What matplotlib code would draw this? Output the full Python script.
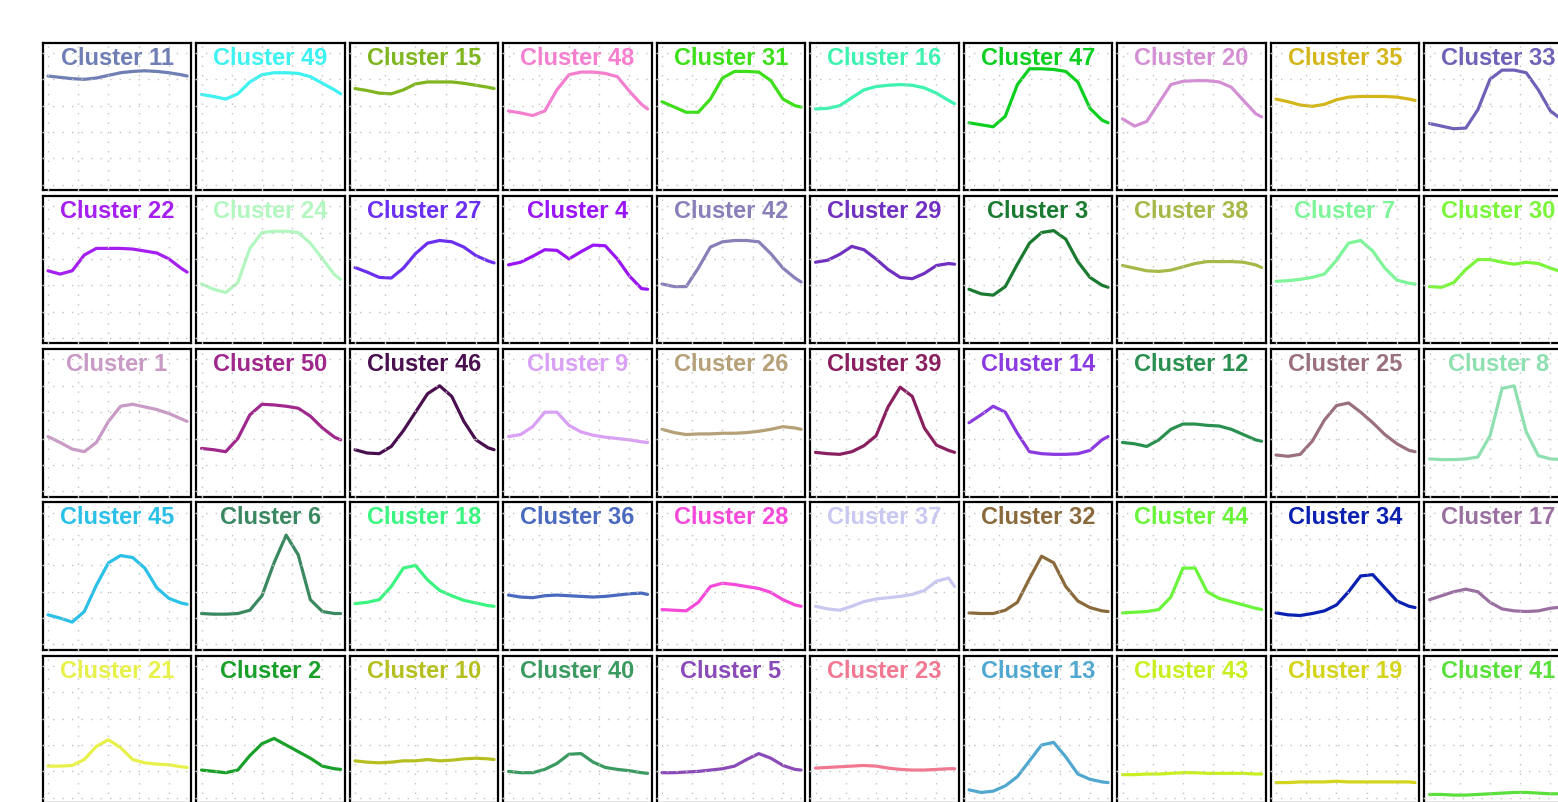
import matplotlib
matplotlib.use("Agg")
import matplotlib.pyplot as plt
import numpy as np

# hour of day at which each cluster profile is sampled
hours = [0, 2, 4, 6, 8, 10, 12, 14, 16, 18, 20, 22, 23]

# panel order, row by row
cluster_ids = [
    11, 49, 15, 48, 31, 16, 47, 20, 35, 33,
    22, 24, 27, 4, 42, 29, 3, 38, 7, 30,
    1, 50, 46, 9, 26, 39, 14, 12, 25, 8,
    45, 6, 18, 36, 28, 37, 32, 44, 34, 17,
    21, 2, 10, 40, 5, 23, 13, 43, 19, 41,
]

cluster_colors = [
    "#6f7fb5", "#3ef2f2", "#7fb51f", "#f57fcf", "#3ddf1a", "#3ef2b0", "#0ccf1f", "#d48fd4", "#d4b61a", "#7060b8",
    "#a51ff0", "#b3f7c0", "#6a2ff0", "#9a15f5", "#8a7fb8", "#7030c0", "#1a7a30", "#a8b848", "#7ff59a", "#7af53a",
    "#c89ac5", "#a0288c", "#4a0f4f", "#d9a0f5", "#b5a078", "#8a1f60", "#8a3ae0", "#2a9050", "#9a7080", "#8ee0b0",
    "#2ac0e8", "#3a8860", "#3af580", "#4a6ac0", "#f54ad9", "#c8c8f0", "#8a6a3a", "#6af53a", "#0a20b0", "#9a70a0",
    "#e8f04a", "#18a028", "#b5c020", "#3a9a60", "#8a4ab8", "#f07890", "#50a8d0", "#c8f020", "#d4d41a", "#5ae03a",
]

# normalised mean profile of every cluster
profiles_row1 = [
    [0.825, 0.815, 0.805, 0.80, 0.81, 0.83, 0.85, 0.86, 0.865, 0.86, 0.85, 0.835, 0.825],
    [0.685, 0.67, 0.65, 0.69, 0.78, 0.835, 0.85, 0.85, 0.845, 0.82, 0.77, 0.72, 0.69],
    [0.73, 0.715, 0.695, 0.69, 0.72, 0.765, 0.78, 0.78, 0.78, 0.77, 0.755, 0.74, 0.73],
    [0.56, 0.545, 0.525, 0.56, 0.72, 0.835, 0.855, 0.855, 0.845, 0.82, 0.71, 0.61, 0.575],
    [0.63, 0.59, 0.55, 0.55, 0.65, 0.81, 0.86, 0.86, 0.855, 0.79, 0.65, 0.60, 0.59],
    [0.575, 0.58, 0.60, 0.66, 0.72, 0.745, 0.755, 0.76, 0.755, 0.735, 0.695, 0.64, 0.615],
    [0.47, 0.455, 0.44, 0.52, 0.76, 0.88, 0.88, 0.875, 0.86, 0.78, 0.58, 0.49, 0.47],
    [0.50, 0.445, 0.48, 0.62, 0.76, 0.785, 0.79, 0.79, 0.78, 0.74, 0.64, 0.54, 0.515],
    [0.65, 0.63, 0.605, 0.595, 0.61, 0.645, 0.665, 0.67, 0.67, 0.67, 0.665, 0.65, 0.64],
    [0.465, 0.445, 0.425, 0.43, 0.57, 0.80, 0.87, 0.87, 0.85, 0.72, 0.56, 0.49, 0.47],
]
profiles_row2 = [
    [0.51, 0.485, 0.51, 0.63, 0.68, 0.68, 0.68, 0.675, 0.66, 0.645, 0.60, 0.53, 0.50],
    [0.41, 0.37, 0.345, 0.42, 0.68, 0.80, 0.81, 0.81, 0.80, 0.72, 0.60, 0.48, 0.445],
    [0.535, 0.50, 0.46, 0.455, 0.53, 0.64, 0.72, 0.74, 0.73, 0.69, 0.625, 0.585, 0.57],
    [0.555, 0.575, 0.62, 0.67, 0.665, 0.60, 0.655, 0.705, 0.70, 0.60, 0.47, 0.375, 0.37],
    [0.41, 0.39, 0.39, 0.53, 0.69, 0.73, 0.74, 0.74, 0.73, 0.64, 0.53, 0.455, 0.425],
    [0.575, 0.59, 0.635, 0.695, 0.67, 0.60, 0.52, 0.46, 0.45, 0.49, 0.55, 0.565, 0.56],
    [0.37, 0.335, 0.325, 0.39, 0.56, 0.72, 0.80, 0.815, 0.75, 0.58, 0.46, 0.40, 0.385],
    [0.55, 0.53, 0.51, 0.505, 0.515, 0.54, 0.565, 0.58, 0.58, 0.58, 0.575, 0.555, 0.535],
    [0.43, 0.435, 0.445, 0.46, 0.485, 0.59, 0.72, 0.74, 0.66, 0.53, 0.44, 0.415, 0.41],
    [0.39, 0.385, 0.42, 0.52, 0.595, 0.595, 0.575, 0.56, 0.575, 0.565, 0.53, 0.50, 0.49],
]
profiles_row3 = [
    [0.415, 0.37, 0.32, 0.30, 0.37, 0.53, 0.645, 0.66, 0.64, 0.62, 0.59, 0.55, 0.53],
    [0.325, 0.315, 0.30, 0.40, 0.58, 0.66, 0.655, 0.645, 0.63, 0.57, 0.48, 0.41, 0.39],
    [0.315, 0.29, 0.285, 0.34, 0.46, 0.60, 0.74, 0.80, 0.72, 0.53, 0.39, 0.33, 0.315],
    [0.415, 0.43, 0.49, 0.60, 0.60, 0.50, 0.45, 0.425, 0.41, 0.40, 0.39, 0.375, 0.37],
    [0.47, 0.445, 0.43, 0.435, 0.435, 0.44, 0.44, 0.445, 0.455, 0.47, 0.49, 0.48, 0.47],
    [0.295, 0.285, 0.28, 0.30, 0.345, 0.42, 0.64, 0.79, 0.72, 0.48, 0.35, 0.31, 0.295],
    [0.52, 0.58, 0.645, 0.60, 0.44, 0.30, 0.285, 0.28, 0.28, 0.285, 0.31, 0.39, 0.415],
    [0.37, 0.36, 0.34, 0.39, 0.47, 0.51, 0.51, 0.50, 0.495, 0.47, 0.43, 0.39, 0.38],
    [0.275, 0.265, 0.28, 0.38, 0.54, 0.65, 0.67, 0.60, 0.52, 0.43, 0.36, 0.31, 0.30],
    [0.245, 0.24, 0.24, 0.245, 0.26, 0.42, 0.78, 0.80, 0.45, 0.27, 0.245, 0.24, 0.24],
]
profiles_row4 = [
    [0.225, 0.20, 0.17, 0.25, 0.45, 0.62, 0.675, 0.66, 0.58, 0.43, 0.35, 0.315, 0.305],
    [0.235, 0.23, 0.23, 0.235, 0.26, 0.37, 0.62, 0.83, 0.68, 0.34, 0.25, 0.235, 0.235],
    [0.31, 0.32, 0.34, 0.44, 0.58, 0.60, 0.49, 0.41, 0.37, 0.335, 0.315, 0.295, 0.29],
    [0.375, 0.36, 0.355, 0.37, 0.375, 0.37, 0.365, 0.36, 0.365, 0.375, 0.385, 0.39, 0.38],
    [0.265, 0.26, 0.255, 0.32, 0.44, 0.465, 0.455, 0.44, 0.425, 0.395, 0.34, 0.30, 0.29],
    [0.29, 0.27, 0.26, 0.29, 0.325, 0.345, 0.355, 0.365, 0.38, 0.41, 0.48, 0.505, 0.44],
    [0.24, 0.235, 0.235, 0.26, 0.32, 0.50, 0.67, 0.62, 0.44, 0.33, 0.28, 0.255, 0.25],
    [0.24, 0.245, 0.25, 0.265, 0.36, 0.58, 0.58, 0.40, 0.35, 0.325, 0.30, 0.275, 0.265],
    [0.24, 0.225, 0.22, 0.235, 0.255, 0.30, 0.40, 0.52, 0.53, 0.43, 0.33, 0.29, 0.28],
    [0.34, 0.37, 0.40, 0.42, 0.40, 0.32, 0.27, 0.255, 0.25, 0.255, 0.275, 0.285, 0.285],
]
profiles_row5 = [
    [0.24, 0.24, 0.245, 0.29, 0.39, 0.44, 0.38, 0.29, 0.265, 0.255, 0.25, 0.235, 0.23],
    [0.21, 0.20, 0.19, 0.21, 0.32, 0.41, 0.45, 0.40, 0.35, 0.30, 0.24, 0.22, 0.215],
    [0.28, 0.27, 0.265, 0.27, 0.28, 0.28, 0.29, 0.28, 0.285, 0.295, 0.30, 0.295, 0.29],
    [0.20, 0.19, 0.19, 0.215, 0.26, 0.33, 0.335, 0.27, 0.23, 0.215, 0.205, 0.19, 0.185],
    [0.19, 0.19, 0.195, 0.20, 0.21, 0.22, 0.24, 0.29, 0.335, 0.30, 0.245, 0.215, 0.21],
    [0.225, 0.23, 0.235, 0.24, 0.245, 0.24, 0.225, 0.215, 0.21, 0.21, 0.215, 0.22, 0.22],
    [0.06, 0.04, 0.05, 0.09, 0.16, 0.28, 0.40, 0.42, 0.31, 0.18, 0.14, 0.12, 0.115],
    [0.175, 0.175, 0.18, 0.18, 0.185, 0.19, 0.19, 0.185, 0.185, 0.185, 0.185, 0.18, 0.18],
    [0.115, 0.115, 0.12, 0.12, 0.12, 0.125, 0.12, 0.12, 0.12, 0.12, 0.12, 0.12, 0.115],
    [0.025, 0.025, 0.02, 0.02, 0.025, 0.03, 0.035, 0.04, 0.04, 0.035, 0.03, 0.03, 0.03],
]
profiles = profiles_row1 + profiles_row2 + profiles_row3 + profiles_row4 + profiles_row5

W, H = 1558, 802
fig = plt.figure(figsize=(W / 100, H / 100), dpi=100)
fig.patch.set_facecolor("white")

ncols = 10
x0, y0 = 42.7, 42.7          # top-left corner of the first panel (px)
col_step, row_step = 153.5, 153.25
pw, ph = 148.6, 147.3

for i, (cid, color, prof) in enumerate(zip(cluster_ids, cluster_colors, profiles)):
    r, c = divmod(i, ncols)
    left = x0 + c * col_step
    top = y0 + r * row_step
    ax = fig.add_axes([left / W, 1 - (top + ph) / H, pw / W, ph / H])

    ax.plot(hours, prof, color=color, lw=2.3, solid_capstyle="round",
            solid_joinstyle="round", zorder=2)

    ax.set_xlim(-0.88, 23.7)
    ax.set_ylim(-0.04, 1.078)
    ax.set_xticks([0, 5, 10, 15, 20])
    ax.set_yticks(np.arange(0, 1.01, 0.2))
    ax.set_xticklabels([])
    ax.set_yticklabels([])
    ax.tick_params(length=2, width=1.0, color="#c8c8c8", direction="inout")
    ax.set_axisbelow(False)
    # sparse dotted grid
    ax.grid(True, color="#c2c2c2", linestyle=(0, (1.0, 5.85)), lw=1.0, zorder=3)
    for sp in ax.spines.values():
        sp.set_linewidth(1.6)
        sp.set_color("black")
        sp.set_zorder(2.4)

    ax.text(0.5, 0.852, f"Cluster {cid}", transform=ax.transAxes,
            ha="center", va="baseline", color=color, fontsize=17,
            fontweight="bold", family="Liberation Sans", zorder=4)

fig.savefig("out.png", dpi=100, facecolor="white")
